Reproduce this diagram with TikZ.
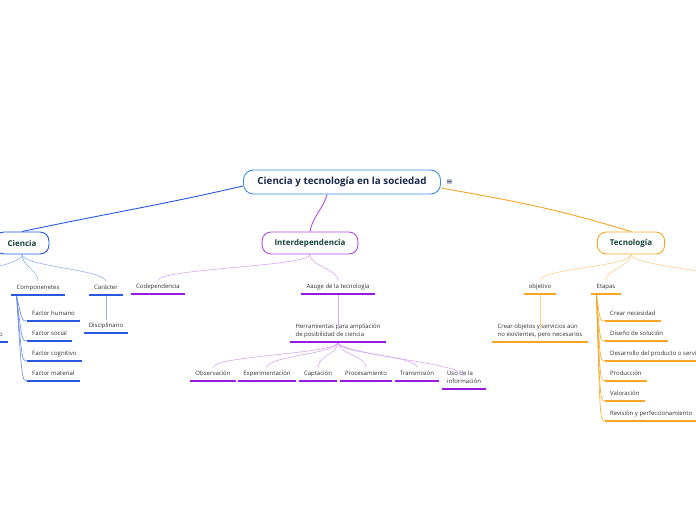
\documentclass[tikz,border=0pt]{standalone}
\usepackage{fontspec}
\setmainfont{Open Sans}
\newfontfamily\symfont{DejaVu Sans}
\usetikzlibrary{positioning}

\definecolor{rootblue}{RGB}{60,140,228}
\definecolor{cblue}{RGB}{38,88,226}
\definecolor{cbluelt}{RGB}{145,178,246}
\definecolor{cpurple}{RGB}{178,74,228}
\definecolor{cpurpledk}{RGB}{152,24,228}
\definecolor{cpurplelt}{RGB}{218,166,246}
\definecolor{corange}{RGB}{246,166,36}
\definecolor{corangelt}{RGB}{251,208,140}
\definecolor{titletext}{RGB}{26,40,76}
\definecolor{maintext}{RGB}{22,66,55}
\definecolor{leaftext}{RGB}{48,48,48}

\tikzset{
    rootnode/.style = {rectangle, draw=rootblue, line width=0.9pt, fill=white, rounded corners=10pt,
                       inner xsep=14pt, minimum height=24pt, font=\fontsize{9.8}{11}\selectfont\bfseries, text=titletext},
    mainnode/.style = {rectangle, line width=0.9pt, fill=white, rounded corners=9pt,
                       inner xsep=12.5pt, minimum height=22pt, font=\fontsize{8}{9}\selectfont\bfseries, text=maintext},
    leaf/.style     = {inner xsep=5pt, inner ysep=3.5pt, text height=4.5pt, text depth=1.5pt,
                       align=left, font=\fontsize{6}{8}\selectfont, text=leaftext},
    mainlink/.style = {line width=0.9pt},
    branch/.style   = {line width=0.6pt},
    uline/.style    = {line width=1.1pt}
}

\begin{document}
\begin{tikzpicture}[x=1pt, y=-1pt]
    \useasboundingbox (0,0) rectangle (696,520);
    \clip (0,0) rectangle (696,520);

    % Root
    \node[rootnode] (root) at (342,182) {Ciencia y tecnología en la sociedad};
    \node[right=4pt of root, inner sep=1pt, text=titletext, font=\symfont\fontsize{8}{8}\selectfont] (menu) {≡};

    % Main topics
    \node[mainnode, draw=cblue] (cie) at (22,243) {Ciencia};
    \node[mainnode, draw=cpurple] (int) at (310,243) {Interdependencia};
    \node[mainnode, draw=corange] (tec) at (631,243) {Tecnología};

    \draw[mainlink, cblue] ([yshift=-4pt]root.west) to[out=193, in=12] (cie.north);
    \draw[mainlink, cpurple] ([xshift=-15pt]root.south) to[out=-105, in=80] (int.north);
    \draw[mainlink, corange] ([yshift=-6pt]root.east) to[out=-10, in=163] (tec.north);

    % Ciencia
    \coordinate (cieoff) at (-40,282);
    \node[leaf, anchor=south] (comp) at (38,295) {Componenetes};
    \node[leaf, anchor=south] (car) at (106,295) {Carácter};
    \node[leaf, anchor=south] (disc) at (106,333) {Disciplinario};
    \node[leaf, anchor=south east] (cieo) at (8,342) {o};
    \node[leaf, anchor=south west] (fh) at (27,321) {Factor humano};
    \node[leaf, anchor=south west] (fs) at (27,341) {Factor social};
    \node[leaf, anchor=south west] (fc) at (27,361) {Factor cognitivo};
    \node[leaf, anchor=south west] (fm) at (27,381) {Factor material};

    \draw[branch, cbluelt] (cie.south) .. controls +(0,12) and +(0,-12) .. (cieoff);
    \foreach \n in {comp,car}
        \draw[branch, cbluelt] (cie.south) .. controls +(0,12) and +(0,-12) .. (\n.north);
    \draw[branch, cbluelt] (car.south) -- (disc.north);
    \foreach \n in {fh,fs,fc,fm}
        \draw[branch, cblue!70] ([xshift=5pt]comp.south west) .. controls ([xshift=-5pt]\n.south west) .. (\n.south west);
    \foreach \n in {comp,car,disc,cieo,fh,fs,fc,fm}
        \draw[uline, cblue] (\n.south west) -- (\n.south east);

    % Interdependencia
    \node[leaf, anchor=south] (codep) at (158,294) {Codependencia};
    \node[leaf, anchor=south] (auge) at (338,294) {Aauge de la tecnología};
    \node[leaf, anchor=south] (herr) at (338,342) {Herramientas para ampliación\\ de posibilidad de ciencia};
    \node[leaf, anchor=south] (obs) at (213,381) {Observación};
    \node[leaf, anchor=south] (expe) at (267,381) {Experimentación};
    \node[leaf, anchor=south] (capt) at (318,381) {Captación};
    \node[leaf, anchor=south] (proc) at (366,381) {Procesamiento};
    \node[leaf, anchor=south] (trans) at (417,381) {Transmisión};
    \node[leaf, anchor=south] (uso) at (464,389) {Uso de la\\información};

    \foreach \n in {codep,auge}
        \draw[branch, cpurplelt] (int.south) .. controls +(0,12) and +(0,-12) .. (\n.north);
    \draw[branch, cpurplelt] (auge.south) -- (herr.north);
    \foreach \n in {obs,expe,capt,proc,trans,uso}
        \draw[branch, cpurplelt] (herr.south) .. controls +(0,12) and +(0,-12) .. (\n.north);
    \foreach \n in {codep,auge,herr,obs,expe,capt,proc,trans,uso}
        \draw[uline, cpurpledk] (\n.south west) -- (\n.south east);

    % Tecnologia
    \coordinate (tecoff) at (740,284);
    \node[leaf, anchor=south] (obj) at (540,294) {objetivo};
    \node[leaf, anchor=south] (crear) at (540,342) {Crear objetos y servicios aún\\no existentes, pero necesarios};
    \node[leaf, anchor=south] (etap) at (606,294) {Etapas};
    \node[leaf, anchor=south west] (e1) at (605,321) {Crear necesidad};
    \node[leaf, anchor=south west] (e2) at (605,341) {Diseño de solución};
    \node[leaf, anchor=south west] (e3) at (605,361) {Desarrollo del producto o servicio};
    \node[leaf, anchor=south west] (e4) at (605,381) {Producción};
    \node[leaf, anchor=south west] (e5) at (605,401) {Valoración};
    \node[leaf, anchor=south west] (e6) at (605,421) {Revisión y perfeccionamiento};

    \draw[branch, corangelt] (tec.south) .. controls +(0,12) and +(0,-12) .. (tecoff);
    \foreach \n in {obj,etap}
        \draw[branch, corangelt] (tec.south) .. controls +(0,12) and +(0,-12) .. (\n.north);
    \draw[branch, corangelt] (obj.south) -- (crear.north);
    \foreach \n in {e1,e2,e3,e4,e5,e6}
        \draw[branch, corange] ([xshift=5pt]etap.south west) .. controls ([xshift=-5pt]\n.south west) .. (\n.south west);
    \foreach \n in {obj,crear,etap,e1,e2,e3,e4,e5,e6}
        \draw[uline, corange] (\n.south west) -- (\n.south east);
\end{tikzpicture}
\end{document}
